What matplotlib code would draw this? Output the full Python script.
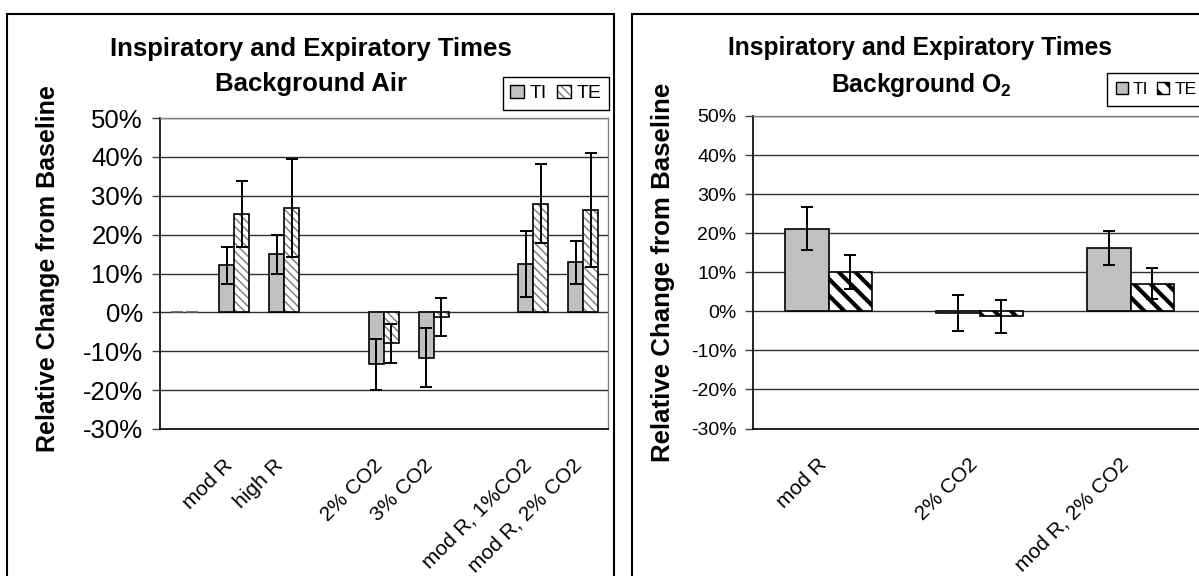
import numpy as np
import matplotlib
matplotlib.use("Agg")
import matplotlib.pyplot as plt
import matplotlib.transforms as mtransforms
from matplotlib.patches import Rectangle, Patch

plt.rcParams['font.family'] = ['Liberation Sans', 'DejaVu Sans']
plt.rcParams['mathtext.fontset'] = 'custom'
plt.rcParams['mathtext.rm'] = 'Liberation Sans:bold'
plt.rcParams['mathtext.bf'] = 'Liberation Sans:bold'

# Background air (relative change from baseline, %)
air_labels = ["", "mod R", "high R", "", "2% CO2", "3% CO2", "", "mod R, 1%CO2", "mod R, 2% CO2"]
air_ti = [0, 12.1, 14.9, np.nan, -13.4, -11.7, np.nan, 12.5, 12.9]
air_ti_err = [np.nan, 4.7, 5.0, np.nan, 6.5, 7.6, np.nan, 8.5, 5.5]
air_te = [0, 25.4, 26.8, np.nan, -8.0, -1.2, np.nan, 28.0, 26.4]
air_te_err = [np.nan, 8.5, 12.6, np.nan, 5.0, 5.0, np.nan, 10.2, 14.6]

# Background O2
o2_labels = ["mod R", "2% CO2", "mod R, 2% CO2"]
o2_ti = [21.2, -0.4, 16.2]
o2_ti_err = [5.6, 4.6, 4.35]
o2_te = [10.0, -1.3, 7.1]
o2_te_err = [4.3, 4.25, 3.95]

W, H = 1199, 576
fig = plt.figure(figsize=(W / 100, H / 100), dpi=100)

GRAY = '#c0c0c0'
STRIPE_LW = 3.0


def fx(px):
    return px / W


def fy(py):
    return 1 - py / H


def style_axes(ax, ticksize):
    ax.set_ylim(-30, 50)
    ax.set_yticks(np.arange(-30, 51, 10))
    ax.set_yticklabels([f'{v}%' for v in range(-30, 51, 10)])
    ax.yaxis.grid(True, color='#303030', lw=1)
    ax.set_axisbelow(True)
    ax.tick_params(axis='y', length=6, width=1, labelsize=ticksize, pad=6, color='#404040')
    ax.tick_params(axis='x', length=0, labelsize=15, pad=19)
    for s in ['top', 'right']:
        ax.spines[s].set_color('#808080')
        ax.spines[s].set_linewidth(1)
    for s in ['left', 'bottom']:
        ax.spines[s].set_color('black')
        ax.spines[s].set_linewidth(1.2)


def shift_labels(ax, dx_px):
    off = mtransforms.ScaledTranslation(dx_px / 100, 0, fig.dpi_scale_trans)
    for lab in ax.get_xticklabels():
        lab.set_transform(lab.get_transform() + off)


def draw_errors(ax, x, y, err):
    x = np.asarray(x, float)
    y = np.asarray(y, float)
    err = np.asarray(err, float)
    m = ~np.isnan(err)
    ax.errorbar(x[m], y[m], yerr=err[m], fmt='none', ecolor='black',
                elinewidth=1.4, capsize=4, capthick=1.4, zorder=5)


# ---- left chart: background air ----
ax1 = fig.add_axes([fx(159.5), fy(429), fx(608) - fx(159.5), fy(118) - fy(429)])
x1 = np.arange(len(air_labels))
ti1 = np.asarray(air_ti, float)
te1 = np.asarray(air_te, float)
m1 = ~np.isnan(ti1)
bw1 = 0.3
zero = m1 & (ti1 == 0)
real = m1 & (ti1 != 0)
ax1.bar(x1[real] - bw1 / 2, ti1[real], bw1, color=GRAY, edgecolor='black', lw=1.2, zorder=3)
# baseline column: zero-height bars show up as short grey dashes
ax1.bar(x1[zero] - bw1 / 2, ti1[zero], bw1 * 0.85, color=GRAY, edgecolor='#606060', lw=1.2, zorder=3)
ax1.bar(x1[real] + bw1 / 2, te1[real], bw1, color='white', edgecolor='#7a7a7a',
        hatch='\\\\\\\\', lw=0, zorder=3)
ax1.bar(x1[real] + bw1 / 2, te1[real], bw1, fill=False, edgecolor='black', lw=1.2, zorder=4)
ax1.bar(x1[zero] + bw1 / 2, te1[zero], bw1 * 0.85, fill=False, edgecolor='#606060', lw=1.2, zorder=4)
draw_errors(ax1, x1 - bw1 / 2, ti1, air_ti_err)
draw_errors(ax1, x1 + bw1 / 2, te1, air_te_err)
ax1.set_xlim(-0.5, len(air_labels) - 0.5)
style_axes(ax1, 18.5)
ax1.set_xticks(x1)
ax1.set_xticklabels(air_labels, rotation=45, ha='right', va='top', rotation_mode='anchor')
shift_labels(ax1, -11)

leg1 = ax1.legend(handles=[Patch(facecolor=GRAY, edgecolor='black'),
                           (Patch(facecolor='white', edgecolor='#7a7a7a', hatch='\\\\\\\\', lw=0),
                            Patch(fill=False, edgecolor='black'))],
                  labels=['TI', 'TE'], ncol=2, loc='upper right',
                  bbox_to_anchor=(fx(609), fy(77)), bbox_transform=fig.transFigure,
                  borderaxespad=0, fancybox=False, edgecolor='black', fontsize=14,
                  handlelength=0.7, handleheight=0.7, handletextpad=0.3, columnspacing=0.5,
                  borderpad=0.4, framealpha=1)
leg1.get_frame().set_linewidth(1)

# ---- right chart: background O2 ----
ax2 = fig.add_axes([fx(753), fy(428.5), fx(1206) - fx(753), fy(116) - fy(428.5)])
x2 = np.arange(len(o2_labels))
bw2 = 0.285
ax2.bar(x2 - bw2 / 2, o2_ti, bw2, color=GRAY, edgecolor='black', lw=1.2, zorder=3)
te_bars = ax2.bar(x2 + bw2 / 2, o2_te, bw2, color='white', edgecolor='black',
                  hatch='\\\\', lw=1.2, zorder=3)
for b in te_bars:
    if hasattr(b, 'set_hatch_linewidth'):
        b.set_hatch_linewidth(STRIPE_LW)
draw_errors(ax2, x2 - bw2 / 2, o2_ti, o2_ti_err)
draw_errors(ax2, x2 + bw2 / 2, o2_te, o2_te_err)
ax2.set_xlim(-0.5, len(o2_labels) - 0.5)
style_axes(ax2, 14)
ax2.set_xticks(x2)
ax2.set_xticklabels(o2_labels, rotation=45, ha='right', va='top', rotation_mode='anchor')
shift_labels(ax2, -12)

te_handle = Patch(facecolor='white', edgecolor='black', hatch='\\\\')
leg2 = ax2.legend(handles=[Patch(facecolor=GRAY, edgecolor='black'), te_handle],
                  labels=['TI', 'TE'], ncol=2, loc='upper left',
                  bbox_to_anchor=(fx(1107), fy(73)), bbox_transform=fig.transFigure,
                  borderaxespad=0, fancybox=False, edgecolor='black', fontsize=12.5,
                  handlelength=0.7, handleheight=0.7, handletextpad=0.3, columnspacing=0.5,
                  borderpad=0.5, framealpha=1)
leg2.get_frame().set_linewidth(1)
for h in leg2.legend_handles:
    if hasattr(h, 'set_hatch_linewidth'):
        h.set_hatch_linewidth(2.5)

# ---- chart borders and titles ----
fig.add_artist(Rectangle((fx(7), -0.05), fx(614) - fx(7), fy(14) + 0.05,
                         transform=fig.transFigure, fill=False, ec='black', lw=1.5))
fig.add_artist(Rectangle((fx(632), -0.05), 0.5, fy(14) + 0.05,
                         transform=fig.transFigure, fill=False, ec='black', lw=1.5))

fig.text(fx(310.5), fy(49), 'Inspiratory and Expiratory Times', ha='center', va='center',
         fontsize=18.5, weight='bold')
fig.text(fx(311), fy(84), 'Background Air', ha='center', va='center',
         fontsize=18.5, weight='bold')
fig.text(fx(920.5), fy(48), 'Inspiratory and Expiratory Times', ha='center', va='center',
         fontsize=17.7, weight='bold')
fig.text(fx(921.5), fy(85), 'Background O$_2$', ha='center', va='center',
         fontsize=17.7, weight='bold')

fig.text(fx(47.8), fy(269), 'Relative Change from Baseline', rotation=90, ha='center',
         va='center', fontsize=18, weight='bold')
fig.text(fx(663), fy(272), 'Relative Change from Baseline', rotation=90, ha='center',
         va='center', fontsize=18.6, weight='bold')

fig.savefig('out.png', dpi=100, facecolor='white')
